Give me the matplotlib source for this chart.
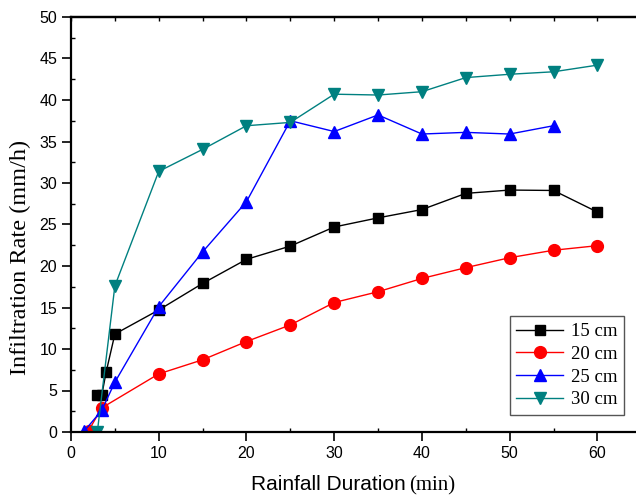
import matplotlib.pyplot as plt
from matplotlib.ticker import MultipleLocator

# Data.
time_15 = [3, 3.5, 4, 5, 10, 15, 20, 25, 30, 35, 40, 45, 50, 55, 60]
rate_15 = [4.4, 4.4, 7.2, 11.8, 14.7, 17.9, 20.8, 22.4, 24.7, 25.8, 26.8, 28.75, 29.15, 29.1, 26.5]

time_20 = [2, 3.5, 10, 15, 20, 25, 30, 35, 40, 45, 50, 55, 60]
rate_20 = [0.15, 2.9, 7.0, 8.7, 10.9, 12.9, 15.6, 16.9, 18.5, 19.8, 21.0, 21.9, 22.45]

time_25 = [1.5, 3.5, 5, 10, 15, 20, 25, 30, 35, 40, 45, 50, 55]
rate_25 = [0.1, 2.6, 6.0, 15.1, 21.7, 27.75, 37.5, 36.2, 38.2, 35.9, 36.1, 35.9, 36.9]

time_30 = [3, 5, 10, 15, 20, 25, 30, 35, 40, 45, 50, 55, 60]
rate_30 = [0.0, 17.6, 31.4, 34.05, 36.9, 37.3, 40.7, 40.6, 41.0, 42.7, 43.1, 43.4, 44.2]

labels = ["15 cm", "20 cm", "25 cm", "30 cm"]
colors = ["black", "red", "blue", "#008080"]

SANS = "Liberation Sans"
SERIF = "Liberation Serif"

fig = plt.figure(figsize=(6.36, 4.97), dpi=100)
ax = fig.add_axes([71 / 636, 1 - 432 / 497, 1 - 71 / 636, (432 - 17) / 497])

ax.plot(time_15, rate_15, color=colors[0], lw=1, marker="s", ms=7.5, label=labels[0])
ax.plot(time_20, rate_20, color=colors[1], lw=1, marker="o", ms=8.5, label=labels[1])
ax.plot(time_25, rate_25, color=colors[2], lw=1, marker="^", ms=9, label=labels[2])
ax.plot(time_30, rate_30, color=colors[3], lw=1, marker="v", ms=9, label=labels[3])

ax.set_xlim(0, 64.4)
ax.set_ylim(0, 50)

ax.xaxis.set_major_locator(MultipleLocator(10))
ax.xaxis.set_minor_locator(MultipleLocator(5))
ax.yaxis.set_major_locator(MultipleLocator(5))
ax.yaxis.set_minor_locator(MultipleLocator(2.5))
ax.tick_params(which="major", direction="out", length=6.5, width=1.2, labelsize=11.5, pad=3.5)
ax.tick_params(which="minor", direction="in", length=3, width=1)
for lab in ax.get_xticklabels() + ax.get_yticklabels():
    lab.set_fontfamily(SANS)

for s in ["left", "bottom", "top"]:
    ax.spines[s].set_linewidth(1.6)
ax.spines["right"].set_visible(False)

top = ax.secondary_xaxis("top")
top.xaxis.set_major_locator(MultipleLocator(5))
top.tick_params(direction="in", length=3, width=1, labeltop=False)
top.spines["top"].set_linewidth(1.6)

# axis titles
fig.text(20 / 636, 1 - 257 / 497, "Infiltration Rate (mm/h)", rotation=90,
         ha="center", va="center", fontsize=17.5, family=SERIF)
fig.text(406 / 636, 1 - 490 / 497, "Rainfall Duration", ha="right", va="baseline",
         fontsize=15, family=SANS)
fig.text(409 / 636, 1 - 490 / 497, "(min)", ha="left", va="baseline",
         fontsize=15, family=SERIF)

leg = ax.legend(loc="lower right", bbox_to_anchor=(0.978, 0.041), borderaxespad=0,
                prop={"family": SERIF, "size": 13.5}, fancybox=False, framealpha=1,
                edgecolor="#555555", handlelength=2.5, labelspacing=0.3,
                handletextpad=0.4, borderpad=0.35)
leg.get_frame().set_linewidth(1)

fig.savefig("out.png", dpi=100)
